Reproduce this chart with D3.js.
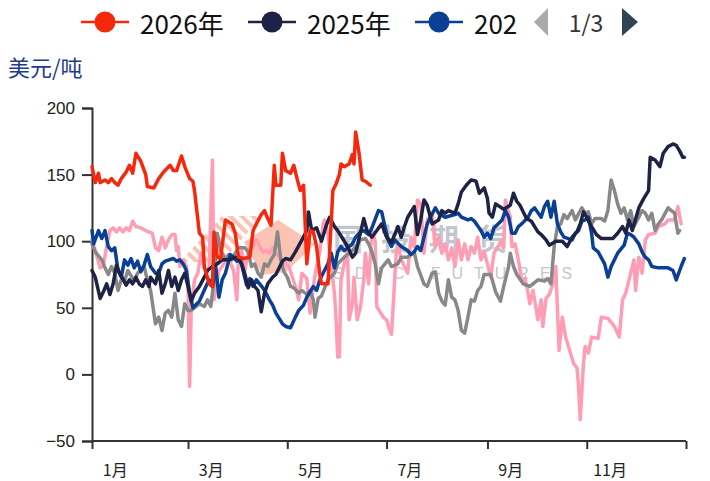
<!DOCTYPE html>
<html><head><meta charset="utf-8">
<script src="https://cdn.jsdelivr.net/npm/d3@7/dist/d3.min.js"></script>
<style>
html,body{margin:0;padding:0;background:#fff;}
svg{display:block;}
</style></head>
<body>
<svg id="chart" width="710" height="481"></svg>
<script>
// ---------- data (day of year, value) ----------
const legendNames = ["2026年", "2025年", "202"];
const pagerText = "1/3";
const unitLabel = "美元/吨";
const yTicks = [-50, 0, 50, 100, 150, 200];
const monthTickDays = [0, 59, 120, 181, 243, 304, 365];
const monthLabelDays = [14, 73, 134, 195, 257, 318];
const monthLabels = ["1月", "3月", "5月", "7月", "9月", "11月"];

const s2026 = [[0,156],[2,144],[4,151],[5,144],[8,146],[10,144],[12,147],[14,144],[16,142],[18,147],[21,152],[23,157],[25,151],[27,166],[30,160],[33,150],[34,141],[38,140],[41,147],[44,152],[48,157],[50,153],[52,153],[55,164],[57,156],[60,147],[62,145],[63,138],[66,106],[68,103],[69,81],[72,68],[74,66],[75,107],[77,88],[79,87],[82,116],[86,113],[88,106],[90,88],[93,87],[97,88],[99,108],[101,113],[104,120],[106,123],[108,117],[110,112],[112,157],[113,142],[116,142],[117,166],[119,153],[122,151],[124,157],[126,147],[128,138],[130,142],[132,83],[134,108],[136,107],[138,96],[140,75],[141,68],[145,68],[148,138],[150,143],[152,150],[153,158],[155,156],[158,158],[160,165],[161,158],[162,182],[164,167],[166,146],[168,145],[171,142]];

const s2025 = [[0,78],[2,73],[5,57],[7,62],[9,68],[11,60],[13,68],[15,82],[17,76],[21,67],[23,71],[25,68],[27,73],[29,68],[31,66],[33,71],[35,66],[36,73],[39,68],[41,78],[43,61],[45,68],[47,78],[49,66],[51,73],[53,63],[55,71],[57,76],[59,66],[61,55],[63,61],[66,66],[69,73],[71,78],[74,81],[77,83],[80,86],[84,86],[86,87],[89,88],[92,83],[94,75],[96,65],[98,71],[100,66],[102,63],[104,47],[106,61],[108,68],[111,73],[113,75],[117,85],[119,87],[122,86],[125,92],[129,101],[132,108],[133,122],[135,108],[138,110],[141,100],[144,112],[146,118],[149,111],[151,108],[154,102],[157,96],[160,88],[162,91],[167,117],[169,108],[172,103],[175,108],[178,113],[181,103],[184,99],[188,111],[190,103],[192,111],[194,118],[198,126],[200,105],[202,116],[204,131],[206,127],[209,113],[213,116],[215,123],[217,121],[219,123],[223,121],[225,128],[227,137],[230,142],[233,146],[236,145],[238,136],[241,140],[243,132],[244,121],[246,118],[248,128],[253,124],[257,127],[259,136],[261,130],[263,127],[265,122],[267,117],[270,115],[272,111],[274,107],[276,105],[279,101],[281,97],[285,100],[289,100],[292,96],[295,103],[298,107],[300,113],[302,122],[304,118],[306,113],[310,105],[313,102],[320,102],[323,106],[326,111],[328,106],[330,116],[332,108],[336,125],[339,132],[342,138],[343,163],[346,161],[349,156],[351,166],[354,171],[357,173],[359,172],[361,168],[363,163],[364,163]];

const s2024 = [[0,108],[1,98],[4,108],[6,102],[8,108],[10,96],[12,93],[14,95],[16,78],[18,73],[20,86],[22,82],[24,87],[26,80],[28,85],[30,77],[32,82],[34,90],[36,81],[39,76],[41,76],[43,83],[45,85],[50,87],[52,85],[54,86],[56,83],[58,78],[60,61],[62,50],[66,55],[70,66],[72,71],[74,66],[76,81],[78,58],[80,71],[82,76],[85,90],[87,88],[89,85],[91,87],[93,77],[95,67],[97,72],[99,66],[101,71],[103,68],[105,65],[107,61],[109,56],[111,52],[113,46],[115,42],[117,38],[119,36],[122,35],[125,43],[127,48],[130,52],[132,58],[136,66],[138,63],[140,71],[142,76],[145,83],[147,91],[149,80],[151,92],[153,96],[155,93],[160,98],[162,103],[165,107],[167,108],[170,105],[172,110],[176,123],[178,122],[180,111],[182,101],[184,96],[186,101],[190,96],[194,93],[196,90],[198,92],[200,96],[202,93],[204,103],[206,113],[208,118],[211,125],[213,121],[217,118],[223,120],[225,121],[227,118],[231,116],[233,117],[235,115],[239,108],[241,103],[243,106],[245,102],[247,110],[252,116],[254,123],[256,118],[258,106],[260,106],[262,111],[264,113],[268,118],[270,123],[272,125],[276,118],[278,126],[280,130],[282,118],[284,130],[286,113],[288,107],[290,103],[295,101],[297,106],[299,108],[301,115],[303,116],[305,118],[307,106],[308,95],[311,92],[315,83],[317,73],[319,81],[323,91],[327,97],[329,106],[331,105],[333,103],[336,98],[338,92],[340,88],[342,86],[344,81],[348,80],[354,80],[357,78],[359,71],[362,81],[364,87]];

const s2023 = [[0,98],[2,92],[6,86],[8,80],[10,75],[12,81],[14,76],[16,63],[18,71],[20,70],[22,78],[26,70],[28,76],[32,81],[34,71],[36,63],[39,38],[41,43],[43,33],[45,46],[47,48],[49,43],[51,61],[53,41],[55,36],[57,53],[59,48],[61,48],[64,51],[66,53],[69,51],[71,56],[73,51],[75,71],[77,106],[79,93],[82,86],[84,90],[86,86],[88,91],[90,95],[94,95],[96,92],[98,81],[100,83],[102,76],[104,73],[106,83],[108,81],[110,86],[112,90],[114,107],[116,86],[118,77],[120,73],[122,66],[124,65],[127,61],[129,63],[132,60],[134,63],[136,56],[137,43],[139,57],[141,59],[143,65],[145,71],[149,76],[151,83],[155,88],[157,90],[159,92],[163,97],[165,101],[168,102],[170,98],[172,92],[174,83],[176,68],[178,80],[180,83],[182,86],[184,81],[188,83],[190,88],[194,88],[198,92],[200,81],[204,68],[206,66],[209,76],[211,77],[213,61],[215,55],[217,52],[219,71],[221,58],[223,56],[225,48],[227,33],[229,31],[231,43],[233,56],[235,55],[237,63],[239,66],[241,75],[245,75],[248,62],[251,55],[253,66],[256,81],[257,91],[259,81],[261,75],[265,68],[269,66],[271,68],[274,71],[278,70],[280,72],[282,68],[284,96],[286,111],[288,113],[290,120],[292,117],[295,123],[297,116],[301,125],[303,121],[305,122],[307,113],[309,117],[313,117],[315,115],[317,123],[319,146],[321,138],[323,128],[325,121],[327,125],[329,116],[331,123],[333,111],[336,118],[338,123],[340,121],[342,116],[344,121],[346,108],[348,113],[350,116],[354,125],[356,123],[358,121],[360,106],[361,108]];

const s2022 = [[0,101],[2,93],[5,80],[7,82],[9,96],[11,108],[13,110],[15,107],[17,110],[19,107],[21,110],[23,108],[25,115],[27,111],[30,110],[33,108],[35,107],[37,106],[39,95],[41,93],[43,103],[45,95],[47,101],[49,105],[51,105],[52,93],[53,96],[54,81],[56,86],[58,81],[59,66],[60,-9],[61,51],[63,71],[65,76],[67,91],[69,80],[70,78],[72,80],[74,161],[75,56],[78,78],[80,81],[83,88],[85,84],[87,78],[89,56],[90,88],[92,93],[94,78],[96,93],[99,96],[101,101],[103,96],[105,92],[107,93],[109,91],[111,95],[113,91],[117,86],[119,83],[121,81],[125,66],[127,56],[129,76],[132,72],[134,46],[136,66],[138,81],[140,92],[142,113],[143,116],[145,105],[147,81],[149,61],[150,41],[151,13],[152,13],[153,71],[155,83],[157,93],[158,41],[160,53],[161,73],[163,41],[165,51],[167,71],[168,91],[170,68],[172,108],[174,100],[175,51],[179,43],[181,41],[183,33],[184,30],[185,50],[187,93],[188,98],[190,86],[194,76],[196,103],[198,96],[200,131],[202,128],[204,91],[206,116],[209,121],[211,96],[213,103],[215,91],[217,98],[219,86],[221,95],[223,81],[225,101],[227,86],[229,98],[231,86],[233,96],[235,91],[237,103],[239,86],[241,92],[243,83],[245,73],[247,91],[252,101],[253,95],[254,131],[257,118],[258,96],[260,98],[262,86],[264,71],[266,72],[268,61],[269,53],[271,63],[274,41],[276,56],[277,36],[279,57],[281,60],[283,67],[285,81],[287,18],[289,43],[291,28],[294,16],[296,8],[298,5],[299,-9],[300,-34],[302,8],[303,21],[305,16],[307,28],[311,27],[313,43],[317,42],[321,36],[324,28],[326,56],[328,61],[330,71],[333,86],[334,63],[336,88],[338,76],[340,101],[342,105],[346,106],[348,111],[352,113],[354,116],[358,116],[360,126],[362,113]];

const seriesColors = ["#f5280e", "#1e2346", "#0a3f96", "#888888", "#ff9db4"];

// ---------- layout ----------
const svg = d3.select("#chart");
const x = d3.scaleLinear().domain([0, 365]).range([92, 686]);
const y = d3.scaleLinear().domain([-50, 200]).range([441, 108]);

const cjk = "'Noto Sans CJK SC','Noto Sans',sans-serif";
const latin = "'Liberation Sans',Arial,sans-serif";

// watermark
const wm = svg.append("g").attr("class", "watermark");
const defs = svg.append("defs");
const pat = defs.append("pattern").attr("id", "hatch").attr("patternUnits", "userSpaceOnUse")
  .attr("width", 8).attr("height", 8).attr("patternTransform", "rotate(-45)");
pat.append("rect").attr("width", 4).attr("height", 8).attr("fill", "#f9b8a6");
wm.append("polygon").attr("points", "180,262 222,216 262,216 222,262").attr("fill", "url(#hatch)").attr("opacity", 0.85);
wm.append("polygon").attr("points", "244,242 278,220 315,244 286,272 262,275").attr("fill", "#f9bdac").attr("opacity", 0.9);
wm.append("text").attr("x", 333).attr("y", 250).text("国投期货")
  .attr("font-family", cjk).attr("font-size", 30).attr("font-weight", 700).attr("letter-spacing", 18)
  .attr("fill", "#b4b8c4").attr("opacity", 0.8);
wm.append("text").attr("x", 333).attr("y", 279).text("SDIC FUTURES")
  .attr("font-family", latin).attr("font-size", 16).attr("letter-spacing", 11)
  .attr("fill", "#b4b8c4").attr("opacity", 0.8);

// axes
const yAxis = svg.append("g").attr("transform", "translate(92,0)")
  .call(d3.axisLeft(y).tickValues(yTicks).tickSize(10).tickPadding(7).tickFormat(d => d < 0 ? "\u2212" + Math.abs(d) : d));
yAxis.selectAll("path,line").attr("stroke", "#333").attr("stroke-width", 2);
yAxis.selectAll("text").attr("font-family", latin).attr("font-size", 17).attr("fill", "#222");

const xAxis = svg.append("g").attr("transform", "translate(0,441)")
  .call(d3.axisBottom(x).tickValues(monthTickDays).tickSize(8).tickFormat(""));
xAxis.selectAll("path,line").attr("stroke", "#333").attr("stroke-width", 2);
xAxis.select("path").attr("d", `M${x(0)},0H${x(365)}`);

const xLab = svg.append("g").attr("transform", "translate(0,441)")
  .call(d3.axisBottom(x).tickValues(monthLabelDays).tickSize(0).tickPadding(24).tickFormat((d, i) => monthLabels[i]));
xLab.select("path").remove();
xLab.selectAll("text").attr("font-family", cjk).attr("font-size", 16).attr("fill", "#222");

// unit label
svg.append("text").attr("x", 8).attr("y", 66).attr("dominant-baseline", "central")
  .text(unitLabel).attr("font-family", cjk).attr("font-size", 22).attr("fill", "#1e3c8c");

// lines (draw bottom to top)
const line = d3.line().x(d => x(d[0])).y(d => y(d[1])).curve(d3.curveLinear);
const allSeries = [s2026, s2025, s2024, s2023, s2022];
const drawOrder = [4, 3, 2, 1, 0];
const lg = svg.append("g").attr("fill", "none").attr("stroke-width", 3.5).attr("stroke-linejoin", "round").attr("stroke-linecap", "round");
drawOrder.forEach(i => {
  lg.append("path").attr("d", line(allSeries[i])).attr("stroke", seriesColors[i]);
});

// legend
const legendX = [105, 272, 439];
const leg = svg.append("g");
legendNames.forEach((name, i) => {
  const cx = legendX[i];
  leg.append("line").attr("x1", cx - 24).attr("x2", cx + 24).attr("y1", 22).attr("y2", 22)
    .attr("stroke", seriesColors[i]).attr("stroke-width", 2.5);
  leg.append("circle").attr("cx", cx).attr("cy", 22).attr("r", 10.5).attr("fill", seriesColors[i]);
  leg.append("text").attr("x", cx + 35).attr("y", 22).attr("dominant-baseline", "central")
    .text(name).attr("font-family", cjk).attr("font-size", 26).attr("fill", "#111");
});
// pager
leg.append("path").attr("d", "M548,8 L534,22 L548,36 Z").attr("fill", "#aaaaaa");
leg.append("text").attr("x", 586).attr("y", 22).attr("text-anchor", "middle").attr("dominant-baseline", "central")
  .text(pagerText).attr("font-family", cjk).attr("font-size", 23).attr("fill", "#333");
leg.append("path").attr("d", "M622,8 L638,22 L622,36 Z").attr("fill", "#2f4554");
</script>
</body></html>
